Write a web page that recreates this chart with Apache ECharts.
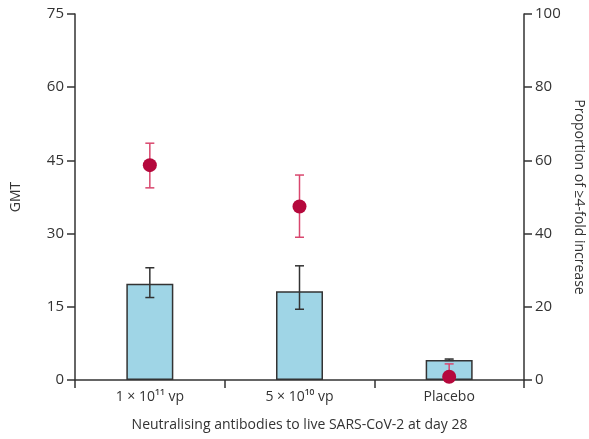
<!DOCTYPE html>
<html>
<head>
<meta charset="utf-8">
<script src="https://cdn.jsdelivr.net/npm/echarts@6/dist/echarts.min.js"></script>
<style>
  html, body { margin: 0; padding: 0; background: #fff; }
  #chart { width: 589px; height: 439px; }
</style>
</head>
<body>
<div id="chart"></div>
<script>
// data
const categories = ['1 × 10¹¹ vp', '5 × 10¹⁰ vp', 'Placebo']
const gmt = [19.7, 18.2, 4.1]
const gmtLow = [16.9, 14.5, 4.0]
const gmtHigh = [23.0, 23.4, 4.3]
const proportion = [58.7, 47.4, 0.9]
const propLow = [52.5, 39.0, 0]
const propHigh = [64.7, 56.0, 4.4]
const leftTicks = [0, 15, 30, 45, 60, 75]
const rightTicks = [0, 20, 40, 60, 80, 100]

const font = 'Open Sans'
const axisColor = '#333'
const textColor = '#333'

// error bar renderer: item = [catIndex, low, high]
function errorBar(color, capW) {
  return function (params, api) {
    const lo = api.coord([api.value(0), api.value(1)])
    const hi = api.coord([api.value(0), api.value(2)])
    const style = { stroke: color, lineWidth: 1.5 }
    return {
      type: 'group',
      children: [
        { type: 'line', shape: { x1: hi[0], y1: hi[1], x2: lo[0], y2: lo[1] }, style },
        { type: 'line', shape: { x1: hi[0] - capW, y1: hi[1], x2: hi[0] + capW, y2: hi[1] }, style },
        { type: 'line', shape: { x1: lo[0] - capW, y1: lo[1], x2: lo[0] + capW, y2: lo[1] }, style }
      ]
    }
  }
}

const chart = echarts.init(document.getElementById('chart'))

const option = {
  animation: false,
  textStyle: { fontFamily: font },
  grid: { left: 75, right: 65, top: 14, bottom: 59, containLabel: false, outerBoundsMode: 'none' },
  xAxis: {
    type: 'category',
    data: categories,
    boundaryGap: true,
    name: 'Neutralising antibodies to live SARS-CoV-2 at day 28',
    nameLocation: 'middle',
    nameGap: 38,
    nameTextStyle: { fontSize: 14, color: textColor },
    axisLine: { lineStyle: { color: axisColor, width: 1.5 } },
    axisTick: { show: true, length: 8, lineStyle: { color: axisColor, width: 1.5 } },
    axisLabel: { fontSize: 14, color: textColor, margin: 10 }
  },
  yAxis: [
    {
      type: 'value',
      min: leftTicks[0],
      max: leftTicks[leftTicks.length - 1],
      interval: 15,
      name: 'GMT',
      nameLocation: 'middle',
      nameGap: 52,
      nameRotate: 90,
      nameTextStyle: { fontSize: 14, color: textColor },
      axisLine: { show: true, lineStyle: { color: axisColor, width: 1.5 } },
      axisTick: { show: true, length: 8, lineStyle: { color: axisColor, width: 1.5 } },
      axisLabel: { fontSize: 15, color: textColor, margin: 11 },
      splitLine: { show: false }
    },
    {
      type: 'value',
      position: 'right',
      min: rightTicks[0],
      max: rightTicks[rightTicks.length - 1],
      interval: 20,
      name: 'Proportion of ≥4-fold increase',
      nameLocation: 'middle',
      nameGap: 46,
      nameRotate: -90,
      nameTextStyle: { fontSize: 14, color: textColor },
      axisLine: { show: true, lineStyle: { color: axisColor, width: 1.5 } },
      axisTick: { show: true, length: 8, lineStyle: { color: axisColor, width: 1.5 } },
      axisLabel: { fontSize: 15, color: textColor, margin: 11 },
      splitLine: { show: false }
    }
  ],
  series: [
    {
      type: 'bar',
      yAxisIndex: 0,
      data: gmt,
      barWidth: 47,
      itemStyle: { color: '#9fd5e6', borderColor: '#333', borderWidth: 1.5 }
    },
    {
      type: 'custom',
      yAxisIndex: 0,
      renderItem: errorBar('#333', 4.5),
      data: categories.map((c, i) => [i, gmtLow[i], gmtHigh[i]]),
      z: 5
    },
    {
      type: 'custom',
      yAxisIndex: 1,
      renderItem: errorBar('#d9476e', 4.5),
      data: categories.map((c, i) => [i, propLow[i], propHigh[i]]),
      z: 6
    },
    {
      type: 'scatter',
      yAxisIndex: 1,
      data: proportion,
      symbolSize: 14,
      itemStyle: { color: '#b5083c', opacity: 1 },
      z: 7
    }
  ]
}

chart.setOption(option)
</script>
</body>
</html>
